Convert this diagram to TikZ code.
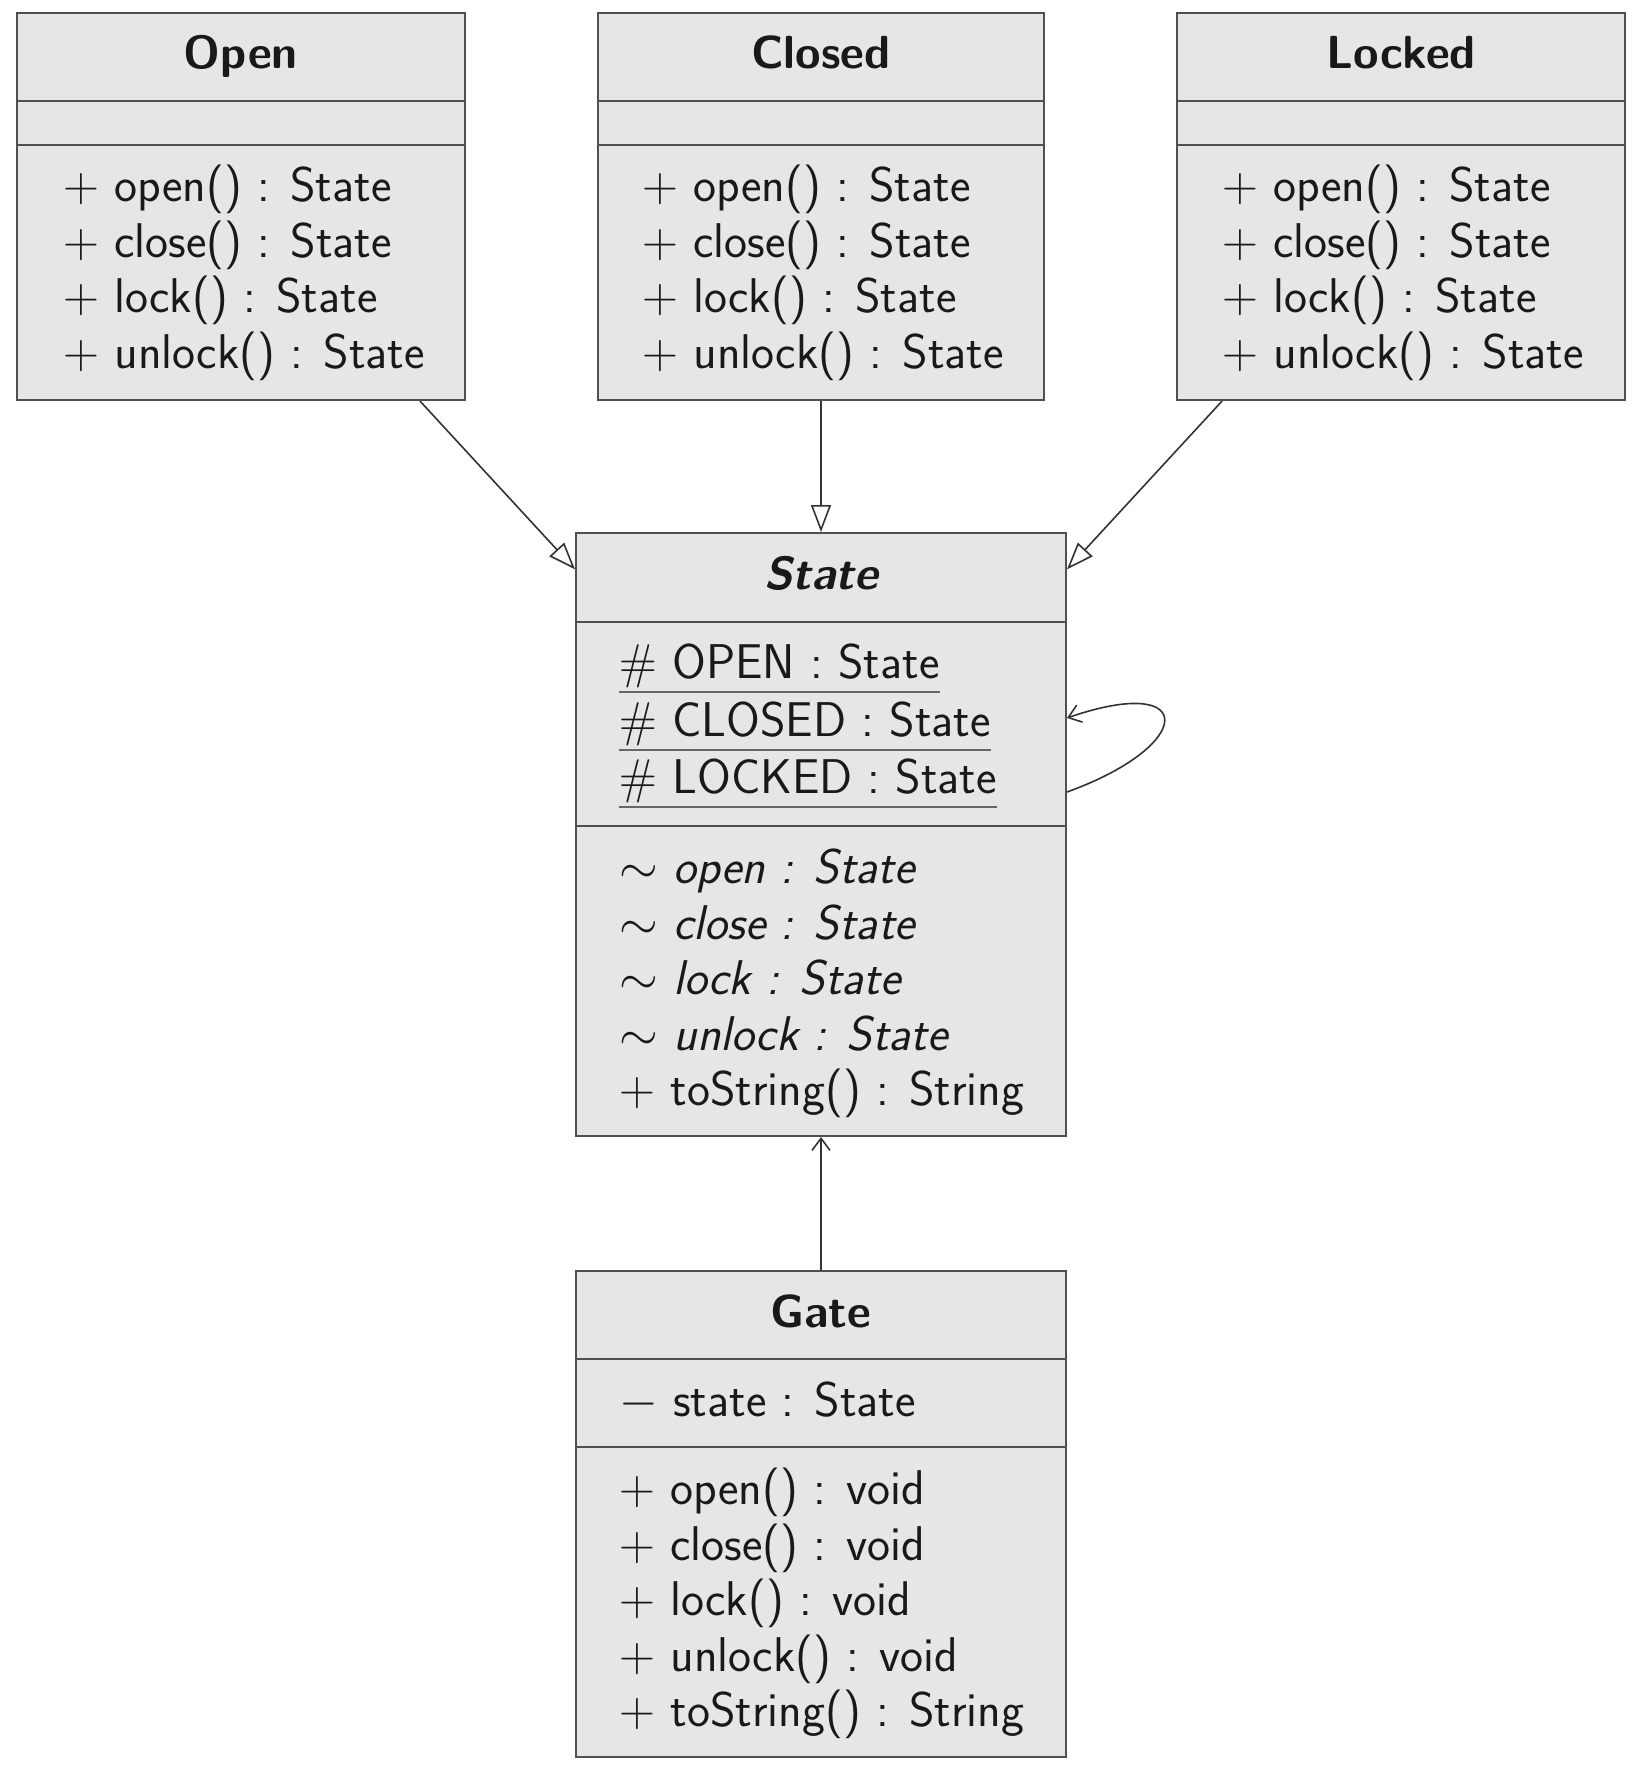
\documentclass[tikz,border=0pt]{standalone}
\usepackage{fontspec}
\usetikzlibrary{arrows.meta,calc}
\newcommand\umlfont{\fontsize{24.4}{29}\selectfont\sffamily}
\newcommand\umltitlefont{\fontsize{23.2}{28}\selectfont\sffamily\bfseries}
\definecolor{boxfill}{HTML}{E6E6E6}
\definecolor{boxline}{HTML}{505050}
\begin{document}
\begin{tikzpicture}[x=0.5pt,y=-0.5pt,
  classbox/.style={draw=boxline, fill=boxfill, line width=1pt, inner sep=0pt, rectangle},
  sepline/.style={draw=boxline, line width=1pt},
  umltitle/.style={anchor=base, inner sep=0pt, font=\umltitlefont, text=black!90},
  member/.style={anchor=base west, inner sep=0pt, font=\umlfont, text=black!90},
  underl/.style={draw=black!60, line width=1pt},
  inherit/.style={draw=black!80, line width=0.8pt, -{Triangle[open, length=13.5pt, width=10pt, fill=white]}},
  assoc/.style={draw=black!80, line width=0.8pt, -{Straight Barb[length=6pt, width=9pt]}},
]
\useasboundingbox (0,0) rectangle (1652,1775);

% ---------- class boxes ----------
\node[classbox, minimum width=224pt, minimum height=193.5pt] (open)   at (241,206.5) {};
\node[classbox, minimum width=223pt, minimum height=193.5pt] (closed) at (821,206.5) {};
\node[classbox, minimum width=224pt, minimum height=193.5pt] (locked) at (1401,206.5) {};
\node[classbox, minimum width=245pt, minimum height=301.5pt] (state)  at (821,834.5) {};
\node[classbox, minimum width=245pt, minimum height=243pt]   (gate)   at (821,1514) {};

% ---------- separators ----------
\foreach \b in {open,closed,locked}{
  \draw[sepline] (\b.west |- 0,101) -- (\b.east |- 0,101);
  \draw[sepline] (\b.west |- 0,145) -- (\b.east |- 0,145);
}
\draw[sepline] (state.west |- 0,622) -- (state.east |- 0,622);
\draw[sepline] (state.west |- 0,826) -- (state.east |- 0,826);
\draw[sepline] (gate.west |- 0,1359) -- (gate.east |- 0,1359);
\draw[sepline] (gate.west |- 0,1447) -- (gate.east |- 0,1447);

% ---------- titles ----------
\node[umltitle] (topen)   at (241,69)  {Open};
\node[umltitle] (tclosed) at (821,69)  {Closed};
\node[umltitle] (tlocked) at (1401,69) {Locked};
\node[umltitle] (tstate)  at (821,589) {\itshape State};
\node[umltitle] (tgate)   at (821,1327) {Gate};

% ---------- Open / Closed / Locked operations ----------
\foreach \b/\x in {o/63,c/642,l/1222}{
  \node[member] (\b1) at (\x,202) {$+$ open() : State};
  \node[member] (\b2) at (\x,258) {$+$ close() : State};
  \node[member] (\b3) at (\x,313) {$+$ lock() : State};
  \node[member] (\b4) at (\x,369) {$+$ unlock() : State};
}

% ---------- State ----------
\node[member] (sa1) at (619,678) {$\#$ OPEN : State};
\node[member] (sa2) at (619,736) {$\#$ CLOSED : State};
\node[member] (sa3) at (619,793) {$\#$ LOCKED : State};
\foreach \n in {sa1,sa2,sa3}{
  \draw[underl] ([yshift=-7pt]\n.base west) -- ([yshift=-7pt]\n.base east);
}
\node[member] (so1) at (619,883)  {$\sim$ \textit{open : State}};
\node[member] (so2) at (619,939)  {$\sim$ \textit{close : State}};
\node[member] (so3) at (619,994)  {$\sim$ \textit{lock : State}};
\node[member] (so4) at (619,1050) {$\sim$ \textit{unlock : State}};
\node[member] (so5) at (619,1105) {$+$ toString() : String};

% ---------- Gate ----------
\node[member] (ga1) at (619,1416) {$-$ state : State};
\node[member] (go1) at (619,1504) {$+$ open() : void};
\node[member] (go2) at (619,1560) {$+$ close() : void};
\node[member] (go3) at (619,1615) {$+$ lock() : void};
\node[member] (go4) at (619,1671) {$+$ unlock() : void};
\node[member] (go5) at (619,1726) {$+$ toString() : String};

% ---------- connectors ----------
\draw[inherit] (open) -- (state);
\draw[inherit] (closed) -- (state);
\draw[inherit] (locked) -- (state);
\draw[assoc] (gate) -- (state);
\draw[assoc] ([yshift=21.25pt]state.east) .. controls +(65pt,23.5pt) and +(65pt,22.5pt) .. ([yshift=58.25pt]state.east);
\end{tikzpicture}
\end{document}
